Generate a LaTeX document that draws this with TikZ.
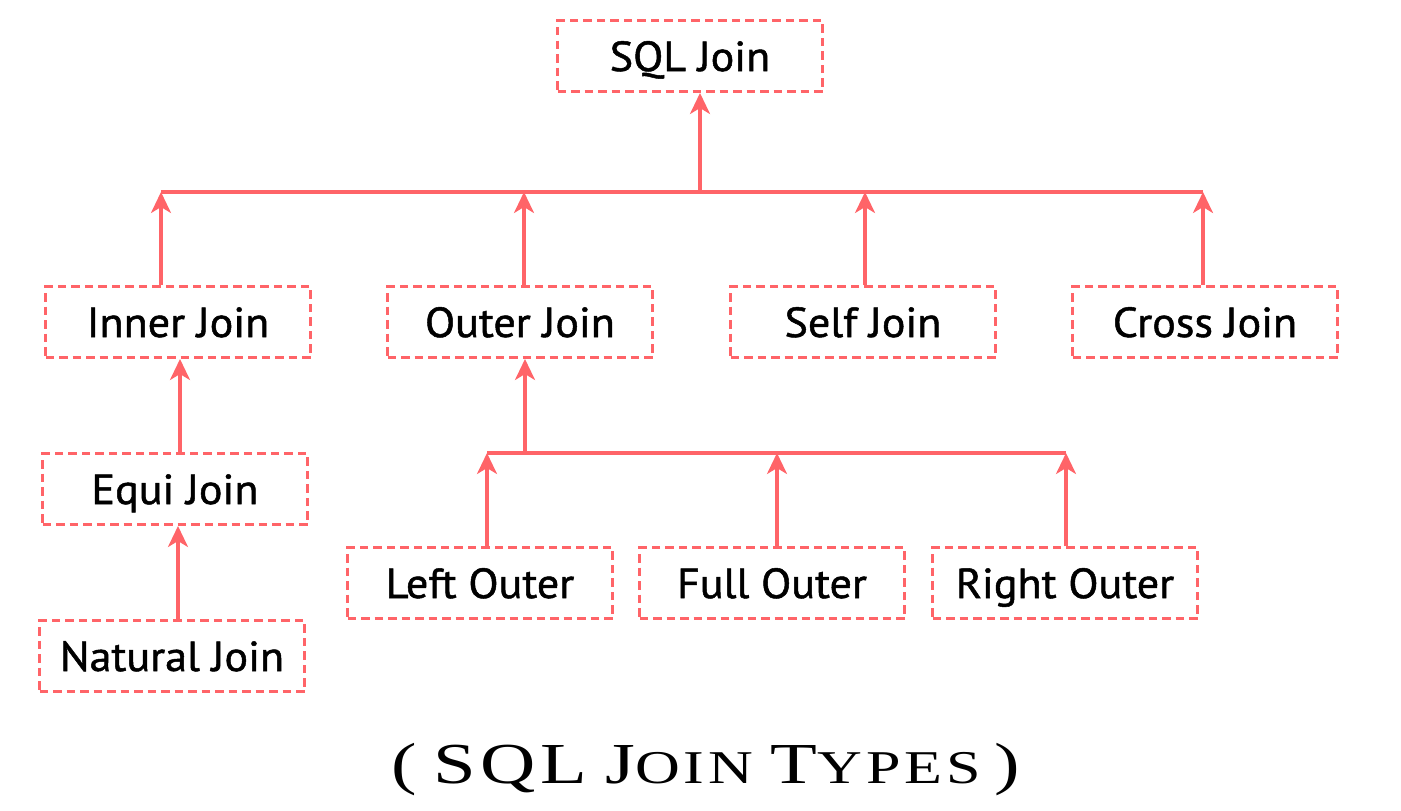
\documentclass[tikz,border=0pt]{standalone}
\usepackage{fontspec}
\setsansfont[FakeBold=1.2, FakeStretch=1.05]{PT Sans}
\newfontfamily\titlefont[FakeStretch=1.32, LetterSpace=8]{Liberation Serif}
\usetikzlibrary{arrows.meta}
\definecolor{jred}{HTML}{FF6468}
\newcommand\bigc{\fontsize{58}{60}\selectfont}
\newcommand\smallc{\fontsize{47}{60}\selectfont}
\tikzset{
  x=1pt, y=-1pt,
  jbox/.style={draw=jred, line width=3pt, dash pattern=on 8.5pt off 5pt,
    minimum width=265pt, minimum height=71pt, inner sep=0pt,
    text height=30pt, text depth=0pt,
    font=\sffamily\fontsize{42}{44}\selectfont, text=black},
  link/.style={draw=jred, line width=3.2pt},
  arr/.style={link, -{Stealth[length=21pt, width=20pt, inset=6pt]}}
}
\begin{document}
\begin{tikzpicture}
\useasboundingbox (0,0) rectangle (1401,811);
\node[jbox] (sql) at (690,56) {SQL Join};
\node[jbox] (inner) at (178,322) {Inner Join};
\node[jbox] (outer) at (520,322) {Outer Join};
\node[jbox] (self) at (863,322) {Self Join};
\node[jbox] (cross) at (1205,322) {Cross Join};
\node[jbox] (equi) at (175,489) {Equi Join};
\node[jbox] (natural) at (172,656) {Natural Join};
\node[jbox] (left) at (480,583) {Left Outer};
\node[jbox] (full) at (772,583) {Full Outer};
\node[jbox] (right) at (1065,583) {Right Outer};
% top bar
\coordinate (t1) at (161,192);
\coordinate (t0) at (700,192);
\coordinate (t2) at (524,192);
\coordinate (t3) at (865,192);
\coordinate (t4) at (1203,192);
\draw[link] (t1) -- (t4);
\draw[arr] (t0) -- (sql.south -| t0);
\draw[arr] (inner.north -| t1) -- (t1);
\draw[arr] (outer.north -| t2) -- (t2);
\draw[arr] (self.north -| t3) -- (t3);
\draw[arr] (cross.north -| t4) -- (t4);
% outer sub bar
\coordinate (o1) at (487,453);
\coordinate (o0) at (525,453);
\coordinate (o2) at (777,453);
\coordinate (o3) at (1066,453);
\draw[link] (o1) -- (o3);
\draw[arr] (o0) -- (outer.south -| o0);
\draw[arr] (left.north -| o1) -- (o1);
\draw[arr] (full.north -| o2) -- (o2);
\draw[arr] (right.north -| o3) -- (o3);
% inner chain
\coordinate (e1) at (180,0);
\coordinate (n1) at (178,0);
\draw[arr] (equi.north -| e1) -- (inner.south -| e1);
\draw[arr] (natural.north -| n1) -- (equi.south -| n1);
% title
\node[font=\titlefont, text=black, inner sep=0pt, anchor=base] (title) at (706,783)
  {\bigc(\hspace{16pt}SQL\hspace{18pt}J\smallc OIN\hspace{18pt}\bigc T\smallc YPES\hspace{14pt}\bigc)};
\end{tikzpicture}
\end{document}
